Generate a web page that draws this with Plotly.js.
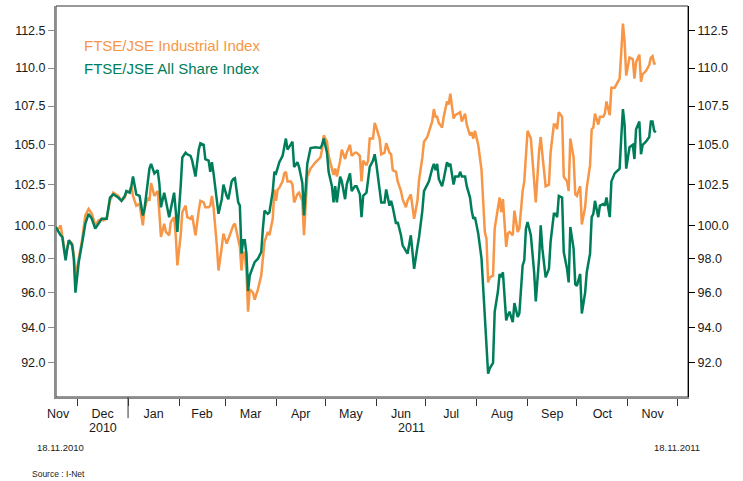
<!DOCTYPE html>
<html><head><meta charset="utf-8">
<script src="https://cdn.plot.ly/plotly-3.0.1.min.js"></script>
<style>html,body{margin:0;padding:0;background:#fff}#chart{width:743px;height:481px}</style>
</head><body><div id="chart"></div>
<script>
const dates = [
'2010-11-18','2010-11-19','2010-11-21','2010-11-22','2010-11-24','2010-11-25','2010-11-26','2010-11-28','2010-11-29','2010-11-30',
'2010-12-02','2010-12-04','2010-12-06','2010-12-08','2010-12-10','2010-12-12','2010-12-14','2010-12-16','2010-12-17','2010-12-19',
'2010-12-21','2010-12-23','2010-12-26','2010-12-28','2010-12-30','2010-12-31',
'2011-01-02','2011-01-03','2011-01-04','2011-01-06','2011-01-08','2011-01-10','2011-01-11','2011-01-13','2011-01-14','2011-01-15',
'2011-01-17','2011-01-19','2011-01-20','2011-01-21','2011-01-23','2011-01-24','2011-01-26','2011-01-27','2011-01-29','2011-01-30','2011-01-31',
'2011-02-02','2011-02-03','2011-02-05','2011-02-06','2011-02-08','2011-02-09','2011-02-11','2011-02-13','2011-02-14','2011-02-16',
'2011-02-17','2011-02-19','2011-02-20','2011-02-21','2011-02-22','2011-02-24','2011-02-25','2011-02-27','2011-02-28',
'2011-03-02','2011-03-03','2011-03-05','2011-03-06','2011-03-07','2011-03-09','2011-03-10','2011-03-11','2011-03-12','2011-03-13',
'2011-03-14','2011-03-15','2011-03-16','2011-03-18','2011-03-19','2011-03-21','2011-03-23','2011-03-24','2011-03-25','2011-03-27',
'2011-03-28','2011-03-30','2011-03-31',
'2011-04-01','2011-04-02','2011-04-03','2011-04-05','2011-04-06','2011-04-07','2011-04-08','2011-04-10','2011-04-11','2011-04-12',
'2011-04-14','2011-04-15','2011-04-17','2011-04-18','2011-04-20','2011-04-22','2011-04-25','2011-04-28','2011-04-29','2011-04-30',
'2011-05-02','2011-05-03','2011-05-05','2011-05-06','2011-05-07','2011-05-08','2011-05-10','2011-05-11','2011-05-13','2011-05-14',
'2011-05-16','2011-05-17','2011-05-19','2011-05-20','2011-05-22','2011-05-23','2011-05-24','2011-05-26','2011-05-27','2011-05-28',
'2011-05-30','2011-05-31',
'2011-06-01','2011-06-03','2011-06-04','2011-06-06','2011-06-07','2011-06-09','2011-06-10','2011-06-11','2011-06-13','2011-06-14',
'2011-06-16','2011-06-17','2011-06-19','2011-06-20','2011-06-22','2011-06-23','2011-06-24','2011-06-26','2011-06-27','2011-06-29','2011-06-30',
'2011-07-02','2011-07-03','2011-07-05','2011-07-06','2011-07-07','2011-07-08','2011-07-09','2011-07-11','2011-07-12','2011-07-14',
'2011-07-15','2011-07-16','2011-07-18','2011-07-19','2011-07-21','2011-07-22','2011-07-23','2011-07-25','2011-07-26','2011-07-28',
'2011-07-29','2011-07-30','2011-07-31',
'2011-08-02','2011-08-04','2011-08-05','2011-08-06','2011-08-07','2011-08-08','2011-08-09','2011-08-11','2011-08-12','2011-08-13',
'2011-08-14','2011-08-15','2011-08-16','2011-08-17','2011-08-19','2011-08-20','2011-08-21','2011-08-23','2011-08-24','2011-08-26',
'2011-08-27','2011-08-29','2011-08-30','2011-08-31',
'2011-09-01','2011-09-03','2011-09-05','2011-09-06','2011-09-08','2011-09-09','2011-09-10','2011-09-12','2011-09-14','2011-09-15',
'2011-09-17','2011-09-18','2011-09-19','2011-09-20','2011-09-22','2011-09-23','2011-09-25','2011-09-26','2011-09-27','2011-09-29','2011-09-30',
'2011-10-01','2011-10-03','2011-10-04','2011-10-06','2011-10-07','2011-10-09','2011-10-10','2011-10-11','2011-10-12','2011-10-14',
'2011-10-15','2011-10-17','2011-10-18','2011-10-19','2011-10-21','2011-10-22','2011-10-24','2011-10-25','2011-10-27','2011-10-28',
'2011-10-29','2011-10-30','2011-10-31',
'2011-11-02','2011-11-04','2011-11-05','2011-11-06','2011-11-08','2011-11-09','2011-11-10','2011-11-12','2011-11-14','2011-11-15',
'2011-11-16','2011-11-17','2011-11-18'
];
const industrial = [
99.9,99.7,100.0,99.4,98.1,98.6,99.1,98.9,98.2,96.9,
97.9,99.1,100.6,101.0,100.7,100.0,100.3,100.4,100.3,100.4,
101.5,102.0,101.8,101.5,101.7,102.0,
102.1,102.4,101.8,101.2,101.3,100.0,101.0,101.7,101.5,102.6,
101.8,102.1,100.8,99.3,100.1,99.6,99.4,100.2,100.5,99.4,97.6,
99.4,100.8,101.2,100.5,100.4,100.6,99.4,100.9,101.5,101.4,
101.1,101.1,101.2,101.8,101.1,98.8,97.3,98.7,99.5,
98.9,99.2,99.7,100.0,100.1,99.2,98.7,97.3,98.4,98.3,
97.2,94.9,96.2,96.0,95.6,96.2,97.0,98.0,99.0,99.6,
99.4,100.4,102.2,
101.5,102.2,102.3,102.7,103.2,103.3,102.7,102.7,102.5,101.4,
101.9,102.0,101.5,99.4,103.0,103.5,103.9,104.2,104.7,105.6,
105.2,104.3,103.5,103.1,103.5,103.0,104.0,104.7,104.1,104.5,
105.0,104.3,104.5,104.5,104.3,102.7,104.0,103.7,104.0,105.4,
105.4,106.4,
106.1,105.4,104.4,104.5,105.1,104.5,104.4,103.4,103.3,102.7,
102.1,101.6,101.1,101.5,101.9,101.1,100.4,101.5,102.8,104.2,105.2,
105.5,105.8,106.5,107.3,106.8,106.8,106.4,106.1,106.8,107.8,
107.6,108.3,106.7,106.9,107.0,107.1,106.5,107.0,106.3,105.6,
105.8,105.4,105.9,
105.0,103.4,101.5,99.6,99.2,96.6,96.9,97.0,99.8,100.5,
101.2,101.7,100.8,101.6,98.7,99.5,99.6,99.4,100.9,99.6,
99.8,102.1,102.7,104.5,
105.9,105.4,103.0,101.4,104.6,105.5,104.4,102.4,102.5,104.5,
106.3,106.3,106.0,107.1,106.8,103.0,102.7,102.1,105.4,104.2,101.9,
101.8,102.4,100.05,101.1,102.3,103.7,106.0,106.1,107.0,106.3,
106.8,106.8,107.0,107.8,106.9,108.7,108.7,108.9,109.3,111.1,
113.0,111.8,109.5,
110.7,110.6,109.3,110.4,110.9,109.1,109.6,109.8,110.2,110.7,
110.8,110.3,110.3
];
const allShare = [
99.9,99.7,99.4,99.3,97.9,98.6,99.1,98.8,98.0,96.0,
97.8,98.9,100.1,100.7,100.4,99.8,100.1,100.4,100.4,100.4,
101.7,101.9,101.7,101.5,101.8,102.1,
102.0,102.4,103.0,101.9,101.8,100.6,101.0,102.8,103.5,103.8,
103.2,103.4,102.6,101.1,102.0,101.5,100.5,101.0,102.0,100.9,99.6,
102.4,104.2,104.5,104.4,104.3,104.0,103.0,104.7,105.1,105.0,
104.1,104.0,103.3,103.9,103.2,101.6,100.7,101.6,102.5,
101.8,101.6,102.7,102.85,102.9,101.4,101.2,98.3,99.1,99.1,
98.3,96.1,97.0,97.6,97.8,98.0,98.4,99.8,100.9,100.7,
100.8,102.1,103.3,
103.2,103.6,103.9,104.3,104.8,105.4,104.7,105.1,105.2,103.6,
103.9,103.6,102.6,100.6,103.8,104.8,104.85,104.8,105.0,105.4,
104.5,103.3,102.4,101.4,102.4,101.4,103.0,102.7,101.6,102.5,
103.2,102.1,102.4,102.4,101.9,100.5,101.8,102.0,102.7,103.6,
104.0,104.4,
103.8,102.4,101.4,101.4,102.2,101.2,101.5,101.1,100.1,100.2,
99.4,98.8,98.4,98.3,99.4,98.5,97.4,98.7,99.3,100.9,102.1,
102.5,102.7,103.5,103.8,103.4,103.8,102.85,102.4,102.85,103.9,
103.7,103.8,102.5,103.0,103.0,103.3,103.0,103.0,102.4,101.7,
100.9,100.4,100.5,
99.5,98.0,96.2,94.5,93.4,91.4,91.7,92.0,94.9,95.5,
96.1,97.1,96.9,97.2,94.4,94.7,94.9,94.3,95.4,94.6,
94.8,97.6,97.9,99.8,
100.2,99.4,97.2,95.5,98.0,100.0,98.6,96.9,97.4,99.0,
100.7,100.7,100.5,101.8,101.7,98.4,97.4,96.6,99.9,98.6,96.5,
96.4,97.1,94.8,96.0,97.2,98.3,100.5,100.7,101.5,100.5,
101.2,101.3,101.2,101.7,100.5,102.7,103.2,103.3,103.5,105.5,
107.3,106.3,103.5,
104.85,105.0,104.1,106.0,106.5,104.4,105.0,105.2,105.5,106.5,
106.5,105.9,105.8
];
const seriesNames = ['FTSE/JSE Industrial Index', 'FTSE/JSE All Share Index'];
const seriesColors = ['#F79646', '#007D5A'];
const monthStarts = ['2010-12-01','2011-01-01','2011-02-01','2011-03-01','2011-04-01','2011-05-01','2011-06-01',
  '2011-07-01','2011-08-01','2011-09-01','2011-10-01','2011-11-01','2011-12-01'];
const monthLabelDates = ['2010-11-19 12:00','2010-12-16 12:00','2011-01-16 12:00','2011-02-15','2011-03-16 12:00','2011-04-16',
  '2011-05-16 12:00','2011-06-16','2011-07-16 12:00','2011-08-16 12:00','2011-09-16','2011-10-16 12:00','2011-11-16'];
const monthLabels = ['Nov','Dec','Jan','Feb','Mar','Apr','May','Jun','Jul','Aug','Sep','Oct','Nov'];
const yearLabels = ['2010', '2011'];
const yearLabelDates = ['2010-12-16 12:00', '2011-06-22 16:00'];
const yTickVals = [92, 94, 96, 98, 100, 102.5, 105, 107.5, 110, 112.5];
const yTickText = ['92.0','94.0','96.0','98.0','100.0','102.5','105.0','107.5','110.0','112.5'];
const startLabel = '18.11.2010';
const endLabel = '18.11.2011';
const sourceLabel = 'Source : I-Net';

const xRange = ['2010-11-18 04:00', '2011-12-07 14:00'];
const yRange = [1.95483, 2.05773];
const FONT = 'Liberation Sans, Arial, sans-serif';

const traces = [
  {x: dates, y: industrial, name: seriesNames[0], type: 'scatter', mode: 'lines',
   line: {color: seriesColors[0], width: 2.5}, xaxis: 'x', yaxis: 'y'},
  {x: dates, y: allShare, name: seriesNames[1], type: 'scatter', mode: 'lines',
   line: {color: seriesColors[1], width: 2.5}, xaxis: 'x2', yaxis: 'y2'}
];

const annotations = [
  {text: seriesNames[0], xref: 'paper', yref: 'paper', x: 0.0411, y: 0.8977, xanchor: 'left', yanchor: 'middle',
   showarrow: false, font: {family: FONT, size: 15, color: seriesColors[0]}},
  {text: seriesNames[1], xref: 'paper', yref: 'paper', x: 0.0411, y: 0.8414, xanchor: 'left', yanchor: 'middle',
   showarrow: false, font: {family: FONT, size: 15, color: seriesColors[1]}},
  {text: yearLabels[0], xref: 'x', yref: 'paper', x: yearLabelDates[0], y: -0.0793, xanchor: 'center', yanchor: 'middle',
   showarrow: false, font: {family: FONT, size: 12.5, color: '#1a1a1a'}},
  {text: yearLabels[1], xref: 'x', yref: 'paper', x: yearLabelDates[1], y: -0.0793, xanchor: 'center', yanchor: 'middle',
   showarrow: false, font: {family: FONT, size: 12.5, color: '#1a1a1a'}},
  {text: startLabel, xref: 'paper', yref: 'paper', x: 0.0079, y: -0.1279, xanchor: 'center', yanchor: 'middle',
   showarrow: false, font: {family: FONT, size: 9.5, color: '#1a1a1a'}},
  {text: endLabel, xref: 'paper', yref: 'paper', x: 0.9826, y: -0.1279, xanchor: 'center', yanchor: 'middle',
   showarrow: false, font: {family: FONT, size: 9.5, color: '#1a1a1a'}},
  {text: sourceLabel, xref: 'paper', yref: 'paper', x: -0.0411, y: -0.1969, xanchor: 'left', yanchor: 'middle',
   showarrow: false, font: {family: FONT, size: 8.5, color: '#1a1a1a'}}
];

const layout = {
  width: 743, height: 481,
  margin: {l: 56, r: 55, t: 6, b: 84},
  paper_bgcolor: '#fff', plot_bgcolor: '#fff',
  showlegend: false,
  font: {family: FONT, size: 12.5, color: '#1a1a1a'},
  xaxis: {type: 'date', range: xRange, tickmode: 'array', tickvals: monthStarts, ticktext: monthStarts.map(() => ''),
    ticks: 'outside', ticklen: 7, tickwidth: 1, tickcolor: '#333', showline: true, linecolor: '#8c8c8c', linewidth: 2,
    showgrid: false, zeroline: false, fixedrange: true},
  xaxis2: {type: 'date', range: xRange, overlaying: 'x', anchor: 'y2', side: 'bottom', tickmode: 'array',
    tickvals: monthLabelDates, ticktext: monthLabels, ticks: 'outside', ticklen: 5, tickcolor: 'rgba(0,0,0,0)',
    showline: false, showgrid: false, zeroline: false, tickfont: {family: FONT, size: 12.5, color: '#1a1a1a'}},
  yaxis: {type: 'log', range: yRange, tickmode: 'array', tickvals: yTickVals, ticktext: yTickText,
    ticks: 'outside', ticklen: 6, tickwidth: 1, tickcolor: '#8c8c8c', showline: true, linecolor: '#8c8c8c', linewidth: 2,
    showgrid: false, zeroline: false, tickfont: {family: FONT, size: 12.5, color: '#1a1a1a'}},
  yaxis2: {type: 'log', range: yRange, overlaying: 'y', anchor: 'x2', side: 'right', tickmode: 'array',
    tickvals: yTickVals, ticktext: yTickText, ticks: 'outside', ticklen: 6, tickwidth: 1, tickcolor: '#000',
    showline: true, linecolor: '#000', linewidth: 1, showgrid: false, zeroline: false,
    tickfont: {family: FONT, size: 12.5, color: '#1a1a1a'}},
  shapes: [
    {type: 'rect', xref: 'paper', yref: 'paper', x0: 0, x1: 1, y0: 0, y1: 1, line: {color: '#333', width: 1}, layer: 'below'},
    {type: 'line', xref: 'x', yref: 'paper', x0: monthStarts[1], x1: monthStarts[1], y0: 0, y1: -0.054,
     line: {color: '#333', width: 1}}
  ],
  annotations: annotations,
  hovermode: false
};

Plotly.newPlot('chart', traces, layout, {displayModeBar: false, staticPlot: true});
</script>
</body></html>
